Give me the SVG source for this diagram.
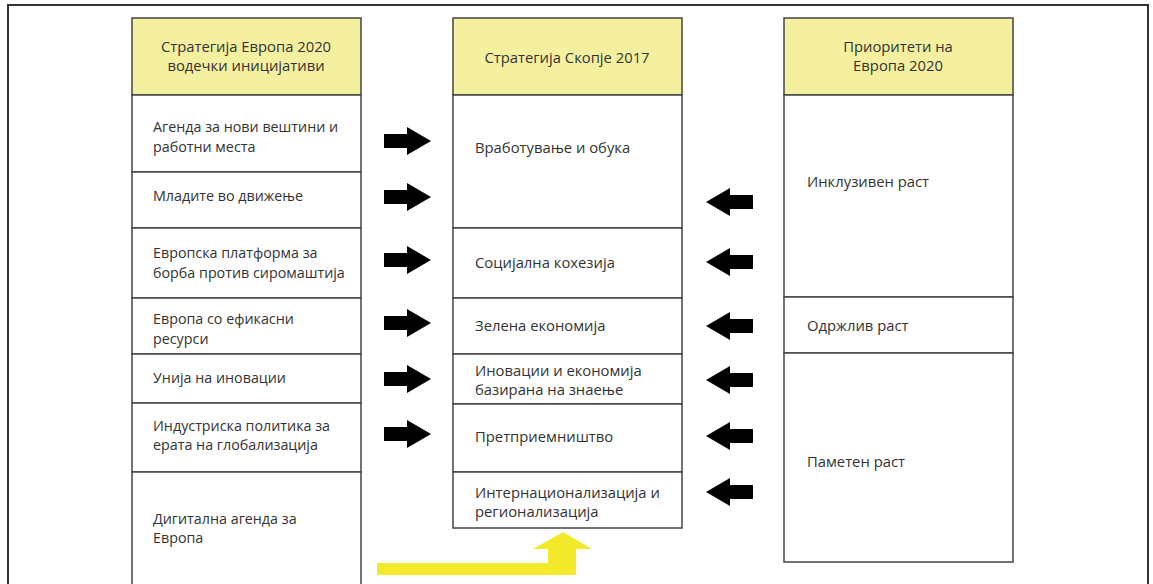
<svg xmlns="http://www.w3.org/2000/svg" width="1153" height="584" viewBox="0 0 1153 584">
<style>
.cell{fill:#fff;stroke:#444;stroke-width:1.5}
.head{fill:#f4f0a0;stroke:#444;stroke-width:1.5}
.t{font-family:"Open Sans","Noto Sans",sans-serif;font-size:14.8px;fill:#333}
.l{font-size:14.3px}
.c{text-anchor:middle}
.arr{fill:#000}
</style>
<defs>
<path id="arrR" d="M0,-7 H23 V-14 L47,0 L23,14 V7 H0 Z"/>
<path id="arrL" d="M47,-7 H24 V-14 L0,0 L24,14 V7 H47 Z"/>
</defs>
<rect width="1153" height="584" fill="#fff"/>
<rect x="8" y="5" width="1140" height="600" fill="none" stroke="#333" stroke-width="2"/>

<g id="col-left">
<g id="l-head"><rect class="head" x="132" y="18" width="229" height="77"/>
<text class="t c" x="246" y="52">Стратегија Европа 2020</text>
<text class="t c" x="246" y="71">водечки иницијативи</text></g>
<g id="l1"><rect class="cell" x="132" y="95" width="229" height="77"/>
<text class="t l" x="153" y="132">Агенда за нови вештини и</text>
<text class="t l" x="153" y="152">работни места</text></g>
<g id="l2"><rect class="cell" x="132" y="172" width="229" height="56"/>
<text class="t l" x="153" y="201">Младите во движење</text></g>
<g id="l3"><rect class="cell" x="132" y="228" width="229" height="70"/>
<text class="t l" x="153" y="258">Европска платформа за</text>
<text class="t l" x="153" y="278">борба против сиромаштија</text></g>
<g id="l4"><rect class="cell" x="132" y="298" width="229" height="56"/>
<text class="t l" x="153" y="324">Европа со ефикасни</text>
<text class="t l" x="153" y="344">ресурси</text></g>
<g id="l5"><rect class="cell" x="132" y="354" width="229" height="49"/>
<text class="t l" x="153" y="383">Унија на иновации</text></g>
<g id="l6"><rect class="cell" x="132" y="403" width="229" height="69"/>
<text class="t l" x="153" y="431">Индустриска политика за</text>
<text class="t l" x="153" y="450">ерата на глобализација</text></g>
<g id="l7"><rect class="cell" x="132" y="472" width="229" height="130"/>
<text class="t l" x="153" y="524">Дигитална агенда за</text>
<text class="t l" x="153" y="543">Европа</text></g>
</g>

<g id="col-mid">
<g id="m-head"><rect class="head" x="453" y="18" width="229" height="77"/>
<text class="t c" x="567" y="63">Стратегија Скопје 2017</text></g>
<g id="m1"><rect class="cell" x="453" y="95" width="229" height="133"/>
<text class="t" x="475" y="153">Вработување и обука</text></g>
<g id="m2"><rect class="cell" x="453" y="228" width="229" height="70"/>
<text class="t" x="475" y="268">Социјална кохезија</text></g>
<g id="m3"><rect class="cell" x="453" y="298" width="229" height="56"/>
<text class="t" x="475" y="331">Зелена економија</text></g>
<g id="m4"><rect class="cell" x="453" y="354" width="229" height="50"/>
<text class="t" x="475" y="376">Иновации и економија</text>
<text class="t" x="475" y="395">базирана на знаење</text></g>
<g id="m5"><rect class="cell" x="453" y="404" width="229" height="68"/>
<text class="t" x="475" y="442">Претприемништво</text></g>
<g id="m6"><rect class="cell" x="453" y="472" width="229" height="56"/>
<text class="t" x="475" y="498">Интернационализација и</text>
<text class="t" x="475" y="517">регионализација</text></g>
</g>

<g id="col-right">
<g id="r-head"><rect class="head" x="784" y="18" width="229" height="77"/>
<text class="t c" x="898" y="52">Приоритети на</text>
<text class="t c" x="898" y="71">Европа 2020</text></g>
<g id="r1"><rect class="cell" x="784" y="95" width="229" height="202"/>
<text class="t" x="807" y="187">Инклузивен раст</text></g>
<g id="r2"><rect class="cell" x="784" y="297" width="229" height="56"/>
<text class="t" x="807" y="331">Одржлив раст</text></g>
<g id="r3"><rect class="cell" x="784" y="353" width="229" height="209"/>
<text class="t" x="807" y="467">Паметен раст</text></g>
</g>

<g id="connectors">
<use href="#arrR" class="arr" x="384" y="141"/>
<use href="#arrR" class="arr" x="384" y="197"/>
<use href="#arrR" class="arr" x="384" y="260"/>
<use href="#arrR" class="arr" x="384" y="323"/>
<use href="#arrR" class="arr" x="384" y="379"/>
<use href="#arrR" class="arr" x="384" y="434"/>
<use href="#arrL" class="arr" x="706" y="202"/>
<use href="#arrL" class="arr" x="706" y="262"/>
<use href="#arrL" class="arr" x="706" y="326"/>
<use href="#arrL" class="arr" x="706" y="380"/>
<use href="#arrL" class="arr" x="706" y="436"/>
<use href="#arrL" class="arr" x="706" y="492"/>
<path d="M377,563 H548 V549 H533 L563,532 L592,549 H576 V575 H377 Z" fill="#f2e92a"/>
</g>
</svg>
